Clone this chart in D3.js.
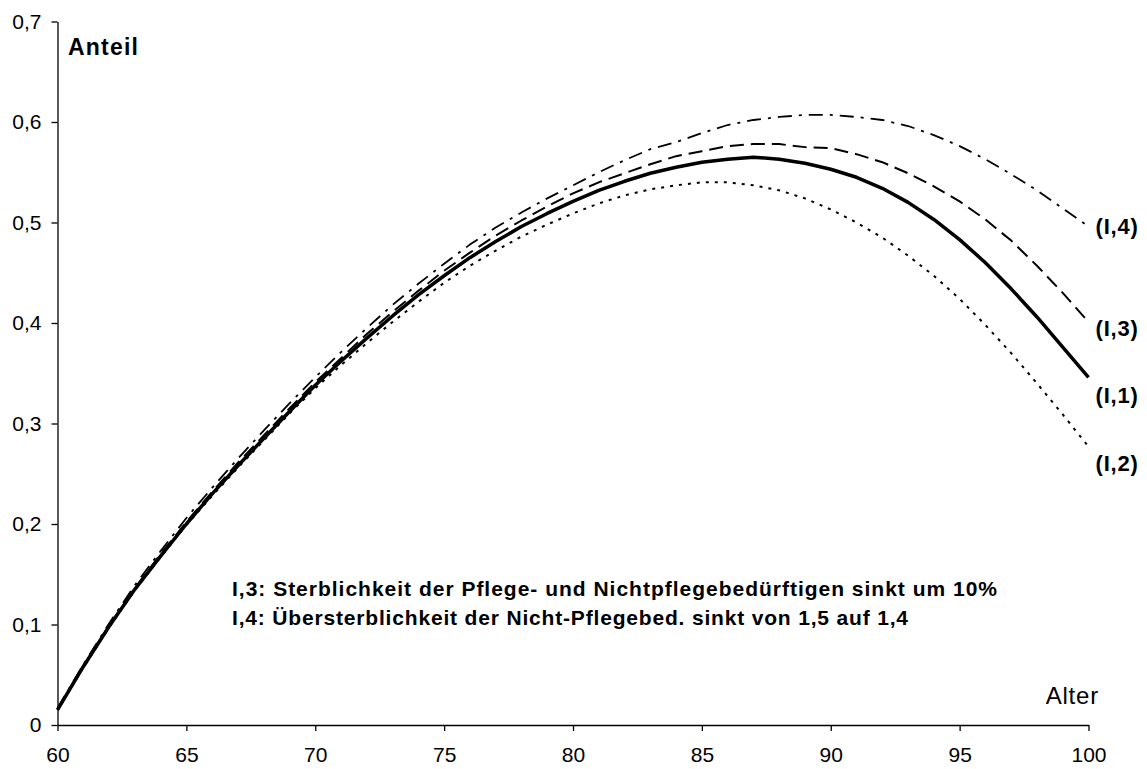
<!DOCTYPE html>
<html>
<head>
<meta charset="utf-8">
<script src="https://cdn.jsdelivr.net/npm/d3@7"></script>
<style>
  body { margin: 0; background: #fff; }
  svg { font-family: "Liberation Sans", Arial, sans-serif; }
</style>
</head>
<body>
<script>
// ages 60..100
var ages = d3.range(60, 101)

var i1 = [0.015, 0.058, 0.098, 0.135, 0.168, 0.200, 0.230, 0.258, 0.285, 0.312,
          0.338, 0.362, 0.385, 0.407, 0.428, 0.447, 0.465, 0.481, 0.496, 0.509,
          0.521, 0.532, 0.541, 0.549, 0.555, 0.560, 0.563, 0.565, 0.563, 0.559,
          0.553, 0.545, 0.534, 0.520, 0.503, 0.483, 0.460, 0.434, 0.406, 0.376, 0.346]

var i2 = [0.015, 0.057, 0.097, 0.134, 0.167, 0.199, 0.228, 0.256, 0.283, 0.310,
          0.335, 0.358, 0.380, 0.401, 0.421, 0.440, 0.457, 0.472, 0.486, 0.498,
          0.509, 0.519, 0.527, 0.533, 0.537, 0.540, 0.540, 0.537, 0.532, 0.524,
          0.513, 0.500, 0.485, 0.467, 0.447, 0.424, 0.398, 0.370, 0.340, 0.309, 0.277]

var i3 = [0.016, 0.059, 0.099, 0.136, 0.170, 0.202, 0.232, 0.261, 0.288, 0.315,
          0.341, 0.365, 0.389, 0.411, 0.432, 0.452, 0.470, 0.487, 0.502, 0.516,
          0.529, 0.540, 0.549, 0.558, 0.566, 0.571, 0.576, 0.578, 0.578, 0.575,
          0.574, 0.568, 0.560, 0.549, 0.536, 0.521, 0.503, 0.482, 0.457, 0.430, 0.401]

var i4 = [0.017, 0.060, 0.101, 0.139, 0.173, 0.206, 0.236, 0.265, 0.293, 0.320,
          0.346, 0.371, 0.395, 0.418, 0.439, 0.459, 0.478, 0.495, 0.510, 0.524,
          0.537, 0.550, 0.562, 0.573, 0.580, 0.589, 0.597, 0.602, 0.605, 0.607,
          0.607, 0.605, 0.602, 0.596, 0.587, 0.576, 0.563, 0.548, 0.532, 0.514, 0.496]

var seriesNames = ["(I,1)", "(I,2)", "(I,3)", "(I,4)"]
var notes = [
    "I,3: Sterblichkeit der Pflege- und Nichtpflegebedürftigen sinkt um 10%",
    "I,4: Übersterblichkeit der Nicht-Pflegebed. sinkt von 1,5 auf 1,4"
]
var xTicks = [60, 65, 70, 75, 80, 85, 90, 95, 100]
var yTicks = [0, 0.1, 0.2, 0.3, 0.4, 0.5, 0.6, 0.7]

var box = { width: 1147, height: 769 }

var svg = d3.select("body").append("svg")
    .attr("width", box.width)
    .attr("height", box.height)

var x = d3.scaleLinear().domain([60, 100]).range([57.5, 1088.5])
var y = d3.scaleLinear().domain([0, 0.7]).range([725, 21.5])

var de = d3.formatLocale({ decimal: ",", thousands: ".", grouping: [3], currency: ["", " €"] })
var fmt = d => d === 0 ? "0" : de.format(".1f")(d)

// axes
svg.append("g")
    .attr("transform", "translate(" + x(60) + ",0)")
    .call(d3.axisLeft(y).tickValues(yTicks).tickFormat(fmt).tickSize(6).tickSizeOuter(0).tickPadding(10))
svg.append("g")
    .attr("transform", "translate(0," + y(0) + ")")
    .call(d3.axisBottom(x).tickValues(xTicks).tickSize(6).tickSizeOuter(0).tickPadding(16))

svg.selectAll(".tick text").attr("font-size", 21).attr("fill", "#000")
    .attr("font-family", "Liberation Sans, Arial, sans-serif")
svg.selectAll(".domain, .tick line").attr("stroke", "#000").attr("stroke-width", 1.3)

// lines
var line = d3.line()
    .x((d, i) => x(ages[i]))
    .y(d => y(d))

var series = [
    { name: seriesNames[1], vals: i2, w: 2, dash: "3,6", off: 24.5 },
    { name: seriesNames[2], vals: i3, w: 2, dash: "14,7", off: 14 },
    { name: seriesNames[3], vals: i4, w: 1.8, dash: "14,7,3,7", off: 7 },
    { name: seriesNames[0], vals: i1, w: 3.5, dash: null, off: 26 }
]

svg.selectAll("path.series")
    .data(series)
    .enter().append("path")
    .attr("class", "series")
    .attr("d", d => line(d.vals))
    .attr("fill", "none")
    .attr("stroke", "#000")
    .attr("stroke-width", d => d.w)
    .attr("stroke-dasharray", d => d.dash)
    .attr("stroke-linejoin", "round")

// end labels
svg.selectAll("text.lbl")
    .data(series)
    .enter().append("text")
    .attr("class", "lbl")
    .attr("x", x(100) + 7)
    .attr("y", d => y(d.vals[d.vals.length - 1]) + d.off)
    .attr("font-size", 22)
    .attr("font-weight", "bold")
    .attr("letter-spacing", 0.8)
    .text(d => d.name)

svg.append("text")
    .attr("x", 68).attr("y", 55)
    .attr("font-size", 23).attr("font-weight", "bold")
    .attr("letter-spacing", 1.2)
    .text("Anteil")

svg.append("text")
    .attr("x", 1099).attr("y", 704)
    .attr("text-anchor", "end")
    .attr("font-size", 24)
    .attr("letter-spacing", 0.8)
    .text("Alter")

var noteLen = [765, 676]
svg.selectAll("text.note")
    .data(notes)
    .enter().append("text")
    .attr("class", "note")
    .attr("x", 232)
    .attr("y", (d, i) => 596 + i * 29)
    .attr("font-size", 21)
    .attr("font-weight", "bold")
    .attr("textLength", (d, i) => noteLen[i])
    .attr("lengthAdjust", "spacing")
    .text(d => d)
</script>
</body>
</html>
